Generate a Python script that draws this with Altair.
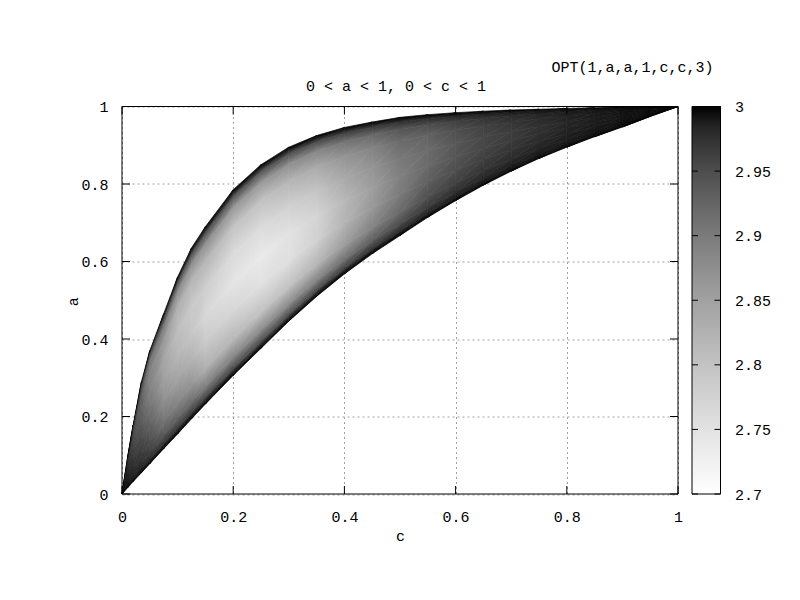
import altair as alt
import numpy as np
import pandas as pd

# ---------------- data ----------------
# boundary of the valid region: for each c, lowest and highest a
c_cols = [0, 0.01, 0.02, 0.035, 0.05, 0.075, 0.1, 0.125, 0.15, 0.2, 0.25, 0.3, 0.35,
          0.4, 0.45, 0.5, 0.55, 0.6, 0.65, 0.7, 0.75, 0.8, 0.85, 0.9, 0.95, 1.0]
a_upper = [0, 0.095, 0.178, 0.29, 0.37, 0.465, 0.56, 0.635, 0.69, 0.785, 0.85, 0.895, 0.925,
           0.946, 0.96, 0.972, 0.979, 0.984, 0.988, 0.991, 0.993, 0.995, 0.997, 0.998, 0.999, 1.0]
a_lower = [0, 0.016, 0.032, 0.055, 0.078, 0.117, 0.155, 0.194, 0.232, 0.306, 0.376, 0.446, 0.51,
           0.568, 0.62, 0.667, 0.714, 0.757, 0.797, 0.833, 0.866, 0.895, 0.922, 0.947, 0.974, 1.0]

# relative position across the region at each c (0 = lower edge, 1 = upper edge)
t_levels = [0, 0.04, 0.1, 0.2, 0.35, 0.5, 0.65, 0.8, 0.9, 0.96, 1]

# OPT value read at each c_cols column, at the t_levels positions
opt_values = [
    [3, 3.000, 3.000, 3.000, 3.000, 3.000, 3.000, 3.000, 3.000, 3.000, 3],   # c=0
    [3, 2.997, 2.994, 2.992, 2.989, 2.986, 2.983, 2.982, 2.985, 2.991, 3],   # 0.01
    [3, 2.993, 2.987, 2.981, 2.974, 2.966, 2.959, 2.958, 2.964, 2.980, 3],   # 0.02
    [3, 2.988, 2.978, 2.968, 2.955, 2.941, 2.931, 2.928, 2.939, 2.966, 3],   # 0.035
    [3, 2.981, 2.965, 2.950, 2.929, 2.908, 2.891, 2.888, 2.904, 2.946, 3],   # 0.05
    [3, 2.972, 2.941, 2.909, 2.875, 2.853, 2.844, 2.860, 2.896, 2.951, 3],   # 0.075
    [3, 2.965, 2.927, 2.887, 2.846, 2.819, 2.807, 2.827, 2.872, 2.940, 3],   # 0.1
    [3, 2.961, 2.915, 2.866, 2.823, 2.795, 2.789, 2.817, 2.869, 2.941, 3],   # 0.125
    [3, 2.954, 2.894, 2.830, 2.789, 2.768, 2.782, 2.817, 2.870, 2.943, 3],   # 0.15
    [3, 2.950, 2.885, 2.815, 2.769, 2.746, 2.762, 2.799, 2.858, 2.938, 3],   # 0.2
    [3, 2.945, 2.877, 2.800, 2.752, 2.737, 2.760, 2.800, 2.859, 2.938, 3],   # 0.25
    [3, 2.945, 2.876, 2.801, 2.754, 2.750, 2.776, 2.819, 2.873, 2.945, 3],   # 0.3
    [3, 2.950, 2.888, 2.819, 2.777, 2.773, 2.796, 2.835, 2.884, 2.950, 3],   # 0.35
    [3, 2.960, 2.909, 2.855, 2.820, 2.817, 2.837, 2.867, 2.907, 2.960, 3],   # 0.4
    [3, 2.970, 2.932, 2.889, 2.862, 2.854, 2.867, 2.889, 2.921, 2.966, 3],   # 0.45
    [3, 2.978, 2.950, 2.920, 2.899, 2.893, 2.903, 2.920, 2.942, 2.975, 3],   # 0.5
    [3, 2.985, 2.967, 2.948, 2.932, 2.921, 2.919, 2.929, 2.949, 2.978, 3],   # 0.55
    [3, 2.989, 2.976, 2.962, 2.949, 2.942, 2.940, 2.948, 2.963, 2.984, 3],   # 0.6
    [3, 2.992, 2.982, 2.972, 2.963, 2.957, 2.956, 2.961, 2.972, 2.988, 3],   # 0.65
    [3, 2.994, 2.987, 2.979, 2.972, 2.967, 2.966, 2.971, 2.979, 2.991, 3],   # 0.7
    [3, 2.995, 2.990, 2.985, 2.979, 2.976, 2.975, 2.979, 2.985, 2.993, 3],   # 0.75
    [3, 2.997, 2.993, 2.989, 2.986, 2.984, 2.983, 2.986, 2.989, 2.995, 3],   # 0.8
    [3, 2.998, 2.995, 2.993, 2.990, 2.989, 2.989, 2.990, 2.993, 2.997, 3],   # 0.85
    [3, 2.999, 2.997, 2.996, 2.995, 2.994, 2.994, 2.995, 2.996, 2.998, 3],   # 0.9
    [3, 3.000, 2.999, 2.999, 2.998, 2.998, 2.998, 2.998, 2.999, 3.000, 3],   # 0.95
    [3, 3.000, 3.000, 3.000, 3.000, 3.000, 3.000, 3.000, 3.000, 3.000, 3],   # 1.0
]

x_ticks = [0, 0.2, 0.4, 0.6, 0.8, 1.0]
y_ticks = [0, 0.2, 0.4, 0.6, 0.8, 1.0]
cb_ticks = [2.7, 2.75, 2.8, 2.85, 2.9, 2.95, 3.0]
cb_range = [2.7, 3.0]
title_text = "0 < a < 1, 0 < c < 1"
series_label = "OPT(1,a,a,1,c,c,3)"
x_label = "c"
y_label = "a"

# ---------------- styling ----------------
W, H = 556, 387.5
FONT = "Liberation Mono"
FS = 15
GAMMA = 1.5  # gnuplot gray palette gamma
TICK = 8


def gray_level(v):
    lo, hi = cb_range
    f = min(max((hi - v) / (hi - lo), 0.0), 1.0)
    return 255.0 * f ** (1.0 / GAMMA)


def hexg(g):
    g = int(round(min(max(g, 0.0), 255.0)))
    return "#{0:02x}{0:02x}{0:02x}".format(g)


def tri_paint(verts, grays):
    """Linear gradient (object bounding box units) that matches the three vertex shades."""
    px = [c * W for c, a in verts]
    py = [(1 - a) * H for c, a in verts]
    x0, x1, y0, y1 = min(px), max(px), min(py), max(py)
    bw, bh = x1 - x0, y1 - y0
    if bw < 1e-6 or bh < 1e-6:
        return None
    u = [(x - x0) / bw for x in px]
    v = [(y - y0) / bh for y in py]
    M = np.array([[u[j], v[j], 1.0] for j in range(3)])
    if abs(np.linalg.det(M)) < 1e-9:
        return None
    gmin, gmax = min(grays), max(grays)
    if gmax - gmin < 0.6:
        return hexg(sum(grays) / 3)
    A, B, _ = np.linalg.solve(M, np.array(grays))
    n2 = A * A + B * B
    jmin = grays.index(gmin)
    k = (gmax - gmin) / n2
    return alt.LinearGradient(
        gradient="linear",
        x1=round(float(u[jmin]), 5), y1=round(float(v[jmin]), 5),
        x2=round(float(u[jmin] + A * k), 5), y2=round(float(v[jmin] + B * k), 5),
        stops=[alt.GradientStop(offset=0, color=hexg(gmin)),
               alt.GradientStop(offset=1, color=hexg(gmax))])


xscale = alt.Scale(domain=[0, 1], nice=False, zero=False)
yscale = alt.Scale(domain=[0, 1], nice=False, zero=False)
xaxis = alt.Axis(values=x_ticks, format="~g", grid=True, gridColor="#a0a0a0",
                 gridDash=[2, 3], gridWidth=1, ticks=False, domain=False,
                 labelPadding=15, labelFlush=False,
                 title=x_label, titleX=W / 2, titleY=46, titleAlign="center",
                 titleBaseline="alphabetic")
yaxis = alt.Axis(values=y_ticks, format="~g", grid=True, gridColor="#a0a0a0",
                 gridDash=[2, 3], gridWidth=1, ticks=False, domain=False,
                 labelPadding=14, labelFlush=False,
                 title=y_label, titleAngle=270, titleX=-50, titleY=H / 2 + 1,
                 titleAlign="center", titleBaseline="middle")

# vertex grid: position (c, a) and shade
grid_a = [[a_lower[i] + t * (a_upper[i] - a_lower[i]) for t in t_levels] for i in range(len(c_cols))]
grid_g = [[gray_level(val) for val in row] for row in opt_values]

surface = []
for i in range(len(c_cols) - 1):
    cl, cr = c_cols[i], c_cols[i + 1]
    for k in range(len(t_levels) - 1):
        aBL, aTL = grid_a[i][k], grid_a[i][k + 1]
        aBR, aTR = grid_a[i + 1][k], grid_a[i + 1][k + 1]
        gBL, gTL = grid_g[i][k], grid_g[i][k + 1]
        gBR, gTR = grid_g[i + 1][k], grid_g[i + 1][k + 1]
        tris = [
            ([(cl, aBL), (cr, aBR), (cr, aTR)], [gBL, gBR, gTR],
             [{"c": cl, "lo": aBL, "hi": aBL}, {"c": cr, "lo": aBR, "hi": aTR}]),
            ([(cl, aBL), (cr, aTR), (cl, aTL)], [gBL, gTR, gTL],
             [{"c": cl, "lo": aBL, "hi": aTL}, {"c": cr, "lo": aTR, "hi": aTR}]),
        ]
        for verts, grays, rows in tris:
            paint = tri_paint(verts, grays)
            if paint is None:
                continue
            surface.append(
                alt.Chart(alt.Data(values=rows)).mark_area(
                    fill=paint, stroke=paint, strokeWidth=0.7, strokeJoin="round",
                    interpolate="linear", orient="vertical").encode(
                    x=alt.X("c:Q", scale=xscale, axis=xaxis),
                    y=alt.Y("hi:Q", scale=yscale, axis=yaxis),
                    y2="lo:Q",
                )
            )

xt = pd.DataFrame({"c": x_ticks})
yt = pd.DataFrame({"a": y_ticks})

tick_bottom = alt.Chart(xt).mark_rule(color="black", strokeWidth=1).encode(
    x=alt.X("c:Q", scale=xscale, axis=xaxis), y=alt.value(H), y2=alt.value(H - TICK))
tick_top = alt.Chart(xt).mark_rule(color="black", strokeWidth=1).encode(
    x=alt.X("c:Q", scale=xscale, axis=xaxis), y=alt.value(0), y2=alt.value(TICK))
tick_left = alt.Chart(yt).mark_rule(color="black", strokeWidth=1).encode(
    y=alt.Y("a:Q", scale=yscale, axis=yaxis), x=alt.value(0), x2=alt.value(TICK))
tick_right = alt.Chart(yt).mark_rule(color="black", strokeWidth=1).encode(
    y=alt.Y("a:Q", scale=yscale, axis=yaxis), x=alt.value(W - TICK), x2=alt.value(W))

frame_df = pd.DataFrame({"c0": [0], "c1": [1], "a0": [0], "a1": [1]})
frame = alt.Chart(frame_df).mark_rect(filled=False, stroke="black", strokeWidth=1).encode(
    x=alt.X("c0:Q", scale=xscale, axis=xaxis), x2="c1:Q",
    y=alt.Y("a0:Q", scale=yscale, axis=yaxis), y2="a1:Q")

title_mark = alt.Chart(pd.DataFrame({"t": [title_text]})).mark_text(
    font=FONT, fontSize=FS, color="black", align="center", baseline="alphabetic").encode(
    text="t:N", x=alt.value(W / 2 - 4), y=alt.value(-16))
series_mark = alt.Chart(pd.DataFrame({"t": [series_label]})).mark_text(
    font=FONT, fontSize=FS, color="black", align="right", baseline="alphabetic").encode(
    text="t:N", x=alt.value(591.5), y=alt.value(-35))

main = alt.layer(*surface, tick_bottom, tick_top, tick_left, tick_right, frame,
                 title_mark, series_mark)

# ---------------- colour bar ----------------
cb_scale = alt.Scale(domain=cb_range, nice=False, zero=False)
cb_stops = []
for k in range(21):
    o = k / 20
    v = cb_range[0] + o * (cb_range[1] - cb_range[0])
    cb_stops.append(alt.GradientStop(offset=o, color=hexg(gray_level(v))))
cb_grad = alt.LinearGradient(gradient="linear", stops=cb_stops, x1=0, x2=0, y1=1, y2=0)
cb_axis = alt.Axis(orient="right", offset=42.5, values=cb_ticks, format="~g", grid=False,
                   ticks=False, domain=False, labelPadding=14, labelFlush=False, title=None)
CB_X0, CB_X1 = 570, 598.5
cb_df = pd.DataFrame({"lo": [cb_range[0]], "hi": [cb_range[1]]})
cb_rect = alt.Chart(cb_df).mark_rect(fill=cb_grad, stroke="black", strokeWidth=1).encode(
    y=alt.Y("lo:Q", scale=cb_scale, axis=cb_axis), y2="hi:Q",
    x=alt.value(CB_X0), x2=alt.value(CB_X1))
cbt = pd.DataFrame({"v": cb_ticks})
cb_tick_l = alt.Chart(cbt).mark_rule(color="black", strokeWidth=1).encode(
    y=alt.Y("v:Q", scale=cb_scale, axis=cb_axis), x=alt.value(CB_X0), x2=alt.value(CB_X0 + 6))
cb_tick_r = alt.Chart(cbt).mark_rule(color="black", strokeWidth=1).encode(
    y=alt.Y("v:Q", scale=cb_scale, axis=cb_axis), x=alt.value(CB_X1 - 6), x2=alt.value(CB_X1))
cbar = alt.layer(cb_rect, cb_tick_l, cb_tick_r)

chart = (
    alt.layer(main, cbar)
    .resolve_scale(y="independent")
    .properties(width=W, height=H,
                padding={"left": 114, "top": 98.5, "right": 114, "bottom": 90},
                autosize=alt.AutoSizeParams(type="none"),
                background="white")
    .configure_view(strokeWidth=0)
    .configure_axis(labelFont=FONT, labelFontSize=FS, labelColor="black",
                    titleFont=FONT, titleFontSize=FS, titleFontWeight="normal",
                    titleColor="black")
)

chart.save("out.html", embed_options={"renderer": "svg", "actions": False})
